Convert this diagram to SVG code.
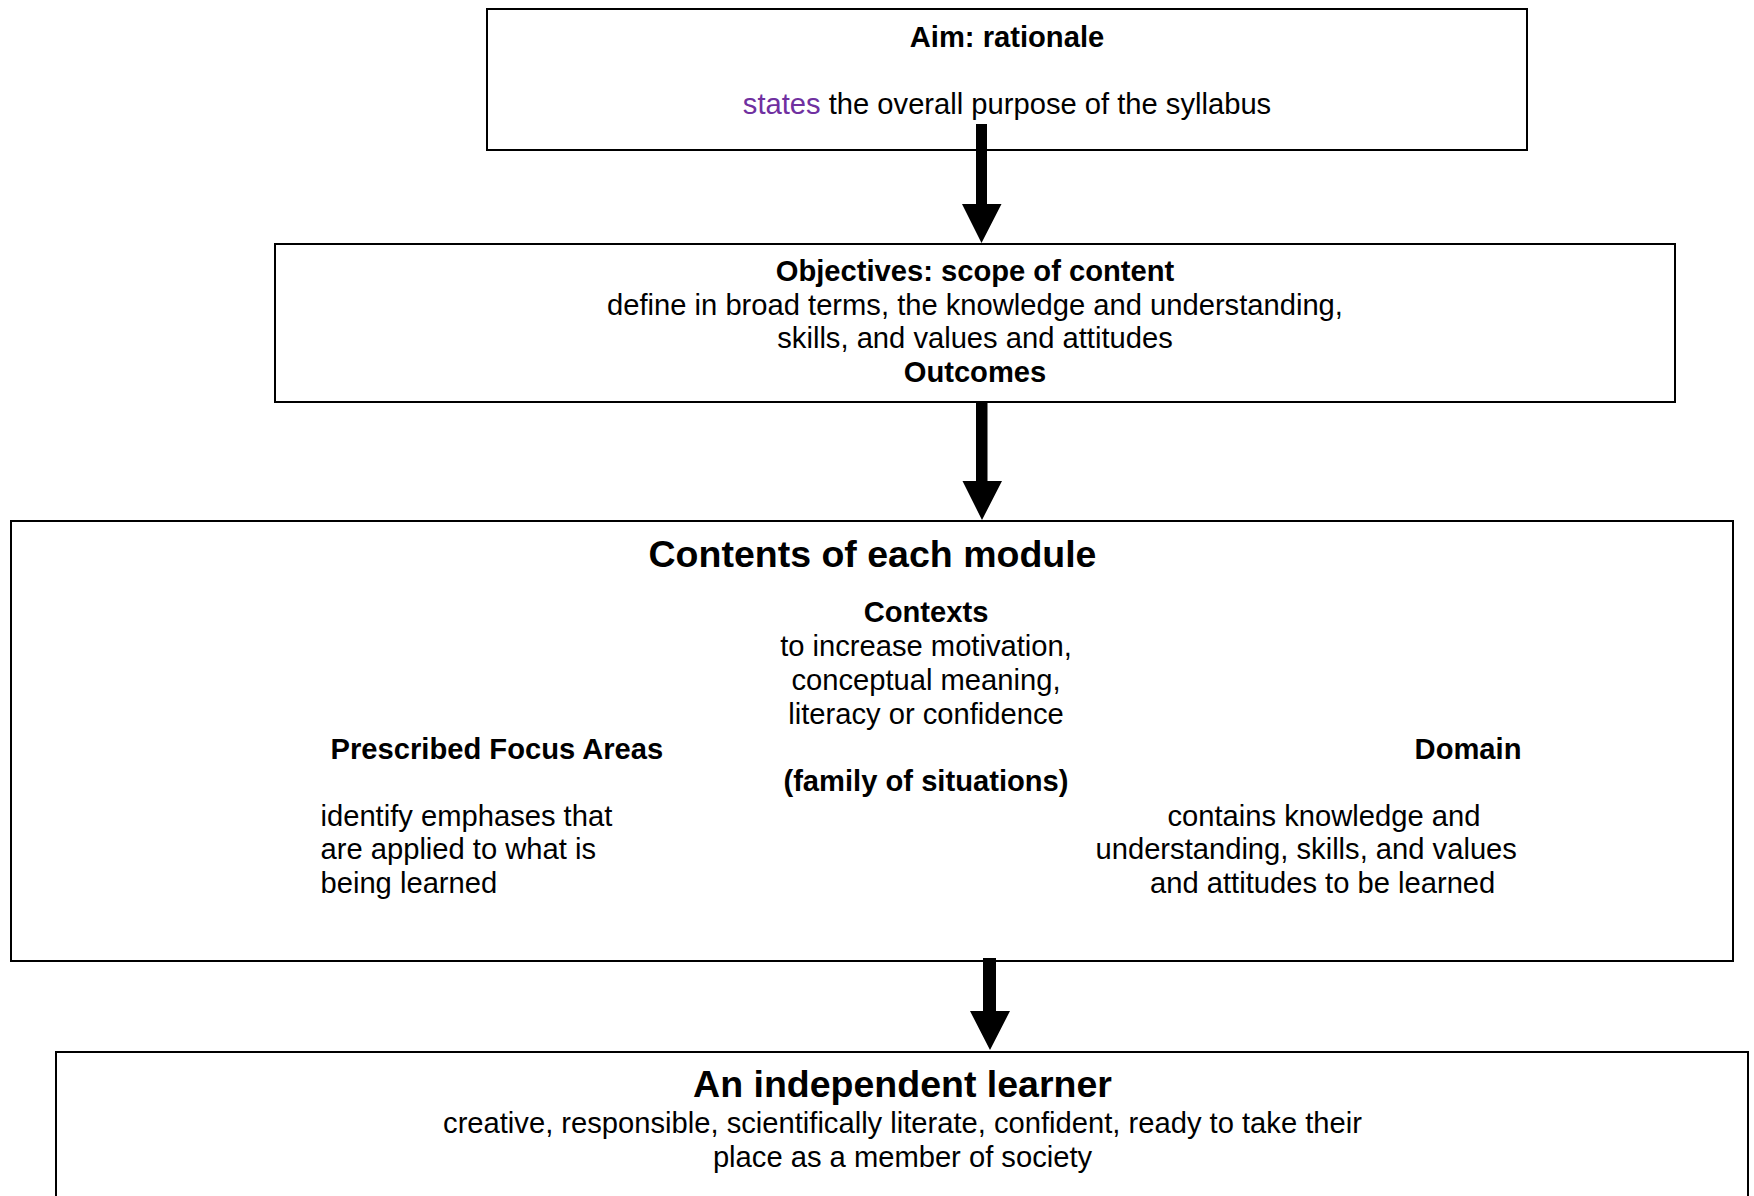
<svg xmlns="http://www.w3.org/2000/svg" width="1754" height="1196" viewBox="0 0 1754 1196">
<style>
.box{fill:#fff;stroke:#000;stroke-width:2}
text{font-family:"Liberation Sans",Arial,sans-serif;font-size:29.17px;fill:#000}
.b{font-weight:bold}
.big{font-weight:bold;font-size:37.5px}
.c{text-anchor:middle}
.arrow{fill:#000;stroke:none}
</style>
<rect width="1754" height="1196" fill="#fff"/>
<g id="aim">
<rect class="box" x="487" y="9" width="1040" height="141"/>
<text class="b c" x="1007" y="46.5">Aim: rationale</text>
<text class="c" x="1007" y="114"><tspan fill="#7030A0">states</tspan> the overall purpose of the syllabus</text>
</g>
<g id="objectives">
<rect class="box" x="275" y="244" width="1400" height="158"/>
<text class="b c" x="975" y="281">Objectives: scope of content</text>
<text class="c" x="975" y="314.5">define in broad terms, the knowledge and understanding,</text>
<text class="c" x="975" y="348">skills, and values and attitudes</text>
<text class="b c" x="975" y="382">Outcomes</text>
</g>
<g id="contents">
<rect class="box" x="11" y="521" width="1722" height="440"/>
<text class="big c" x="872.5" y="567">Contents of each module</text>
<text class="b c" x="926" y="621.5">Contexts</text>
<text class="c" x="926" y="656">to increase motivation,</text>
<text class="c" x="926" y="690">conceptual meaning,</text>
<text class="c" x="926" y="724">literacy or confidence</text>
<text class="b" x="330.5" y="758.5">Prescribed Focus Areas</text>
<text class="b" x="1521.5" y="758.5" text-anchor="end">Domain</text>
<text class="b c" x="926" y="791">(family of situations)</text>
<text x="320.5" y="825.5">identify emphases that</text>
<text x="320.5" y="859">are applied to what is</text>
<text x="320.5" y="893">being learned</text>
<text x="1167.5" y="825.5">contains knowledge and</text>
<text x="1095.5" y="859">understanding, skills, and values</text>
<text x="1150" y="893">and attitudes to be learned</text>
</g>
<g id="learner">
<rect class="box" x="56" y="1052" width="1692" height="170"/>
<text class="big c" x="902.5" y="1097">An independent learner</text>
<text class="c" x="902.5" y="1132.5">creative, responsible, scientifically literate, confident, ready to take their</text>
<text class="c" x="902.5" y="1166.5">place as a member of society</text>
</g>
<g id="connectors">
<path class="arrow" d="M976,124 H987 V204 H1001.5 L981.5,243 L962,204 H976 Z"/>
<path class="arrow" d="M976,402 H987.5 V481 H1002 L982,520 L962.5,481 H976 Z"/>
<path class="arrow" d="M983,958 H996 V1011 H1010 L990,1050 L970,1011 H983 Z"/>
</g>
</svg>
